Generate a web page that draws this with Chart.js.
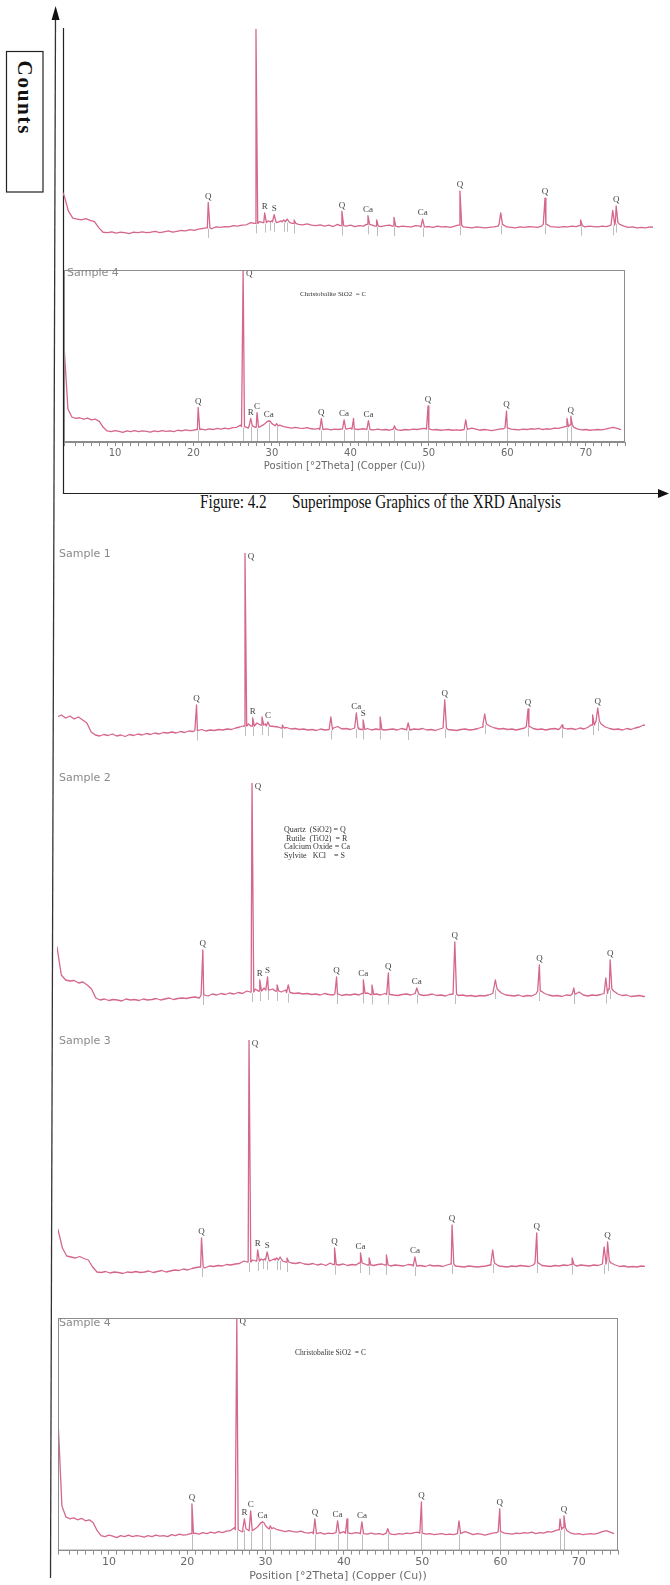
<!DOCTYPE html>
<html>
<head>
<meta charset="utf-8">
<script src="https://cdn.jsdelivr.net/npm/chart.js@4.4.0/dist/chart.umd.min.js"></script>
<style>
html,body{margin:0;padding:0;background:#fff;}
body{width:670px;height:1585px;position:relative;overflow:hidden;}
#frame{position:absolute;left:0;top:0;}
canvas{position:absolute;}
#c0{left:63px;top:29px;}
#c1{left:63px;top:270px;}
#c2{left:58px;top:553px;}
#c3{left:57px;top:783px;}
#c4{left:58px;top:1040px;}
#c5{left:57px;top:1318px;}
.name{position:absolute;font-family:"DejaVu Sans",sans-serif;font-size:11px;color:#8a8a8a;line-height:12px;}
.note{position:absolute;font-family:"Liberation Serif",serif;color:#333;white-space:pre;}
.caption{position:absolute;top:492px;font-family:"Liberation Serif",serif;font-size:19px;line-height:19px;color:#111;white-space:nowrap;transform:scaleX(0.8);transform-origin:left top;}
</style>
</head>
<body>
<svg id="frame" width="670" height="1585">
  <line x1="55.5" y1="16" x2="50.5" y2="1578" stroke="#333" stroke-width="1.3"/>
  <polygon points="55.6,6 51.6,20 59.6,20" fill="#111"/>
  <line x1="63.5" y1="28" x2="63.5" y2="494" stroke="#222" stroke-width="1.2"/>
  <line x1="63" y1="493.5" x2="660" y2="493.5" stroke="#222" stroke-width="1.2"/>
  <polygon points="669,493.5 658,489 658,498" fill="#111"/>
  <rect x="6.5" y="51.5" width="36.5" height="140.5" fill="none" stroke="#222" stroke-width="1.2"/>
  <text x="25" y="97" transform="rotate(90 25 97)" text-anchor="middle" dominant-baseline="central"
        font-family="Liberation Serif" font-size="21" font-weight="bold" fill="#111" textLength="73" lengthAdjust="spacing">Counts</text>
</svg>

<canvas id="c0" width="590" height="219"></canvas>
<canvas id="c1" width="563" height="202"></canvas>
<canvas id="c2" width="587" height="195"></canvas>
<canvas id="c3" width="588" height="232"></canvas>
<canvas id="c4" width="587" height="250"></canvas>
<canvas id="c5" width="562" height="265"></canvas>

<div class="name" style="left:67px;top:267px;">Sample 4</div>
<div class="name" style="left:59px;top:548px;">Sample 1</div>
<div class="name" style="left:59px;top:772px;">Sample 2</div>
<div class="name" style="left:59px;top:1035px;">Sample 3</div>
<div class="name" style="left:59px;top:1317px;">Sample 4</div>

<div class="note" style="left:300px;top:290px;font-size:7px;">Christobalite SiO2  = C</div>
<div class="note" style="left:295px;top:1348px;font-size:7.5px;">Christobalite SiO2  = C</div>
<div class="note" style="left:284px;top:826px;font-size:8px;line-height:8.6px;">Quartz  (SiO2) = Q
 Rutile  (TiO2)  = R
Calcium Oxide = Ca
Sylvite   KCl    = S</div>

<div class="caption" style="left:200px;">Figure: 4.2</div>
<div class="caption" style="left:292px;">Superimpose Graphics of the XRD Analysis</div>

<script>
// 2-theta grid shared by all scans
const angles = [
  3.5,4,4.5,5,5.5,6,6.5,7,7.5,8,
  8.5,9,9.5,10,10.5,11,11.5,12,12.5,13,
  13.5,14,14.5,15,15.5,16,16.5,17,17.5,18,
  18.5,19,19.5,20,20.5,21,21.5,22,22.5,23,
  23.5,24,24.5,25,25.5,26,26.5,27,27.5,28,
  28.5,29,29.5,30,30.5,31,31.5,32,32.5,33,
  33.5,34,34.5,35,35.5,36,36.5,37,37.5,38,
  38.5,39,39.5,40,40.5,41,41.5,42,42.5,43,
  43.5,44,44.5,45,45.5,46,46.5,47,47.5,48,
  48.5,49,49.5,50,50.5,51,51.5,52,52.5,53,
  53.5,54,54.5,55,55.5,56,56.5,57,57.5,58,
  58.5,59,59.5,60,60.5,61,61.5,62,62.5,63,
  63.5,64,64.5,65,65.5,66,66.5,67,67.5,68,
  68.5,69,69.5,70,70.5,71,71.5,72,72.5,73,
  73.5,74,74.5
];

// background counts on the grid above
const sample1Counts = [
  330,320,310,330,300,320,290,310,280,250,
  160,130,120,135,125,140,120,130,115,135,
  125,140,130,145,135,150,140,155,150,160,
  150,165,155,170,165,175,185,170,180,175,
  185,180,190,185,200,210,220,240,220,250,
  230,240,220,215,210,200,205,190,195,185,
  190,180,185,175,190,180,185,200,215,190,
  195,185,200,190,185,195,180,190,185,180,
  185,190,180,195,185,180,190,185,195,180,
  185,175,190,200,185,180,175,185,190,180,
  185,195,210,240,215,200,190,195,185,190,
  180,190,200,215,195,185,190,180,190,195,
  185,200,190,195,185,200,190,210,230,270,
  240,210,195,185,190,180,195,185,200,210,
  230,220,240
];
const sample2Counts = [
  750,680,400,350,340,345,320,330,300,260,
  170,150,160,145,155,150,140,160,150,155,
  145,160,150,155,165,150,160,170,155,165,
  170,165,175,180,170,200,190,210,200,215,
  205,220,210,225,215,240,230,260,240,270,
  250,260,240,230,250,225,215,220,210,215,
  205,210,200,215,205,200,210,195,205,200,
  210,200,215,220,205,210,200,215,205,200,
  195,205,210,200,215,205,195,200,210,195,
  200,190,205,210,195,200,190,195,185,195,
  190,200,215,260,220,200,195,190,200,185,
  195,190,210,240,215,200,190,195,185,200,
  195,210,230,200,190,200,195,205,215,260,
  240,210,195,200,185,190,195,185,190,180,
  190,185,195
];
const sample3Counts = [
  800,700,600,420,340,330,320,335,315,300,
  230,180,175,185,170,180,175,165,180,175,
  185,175,180,190,175,185,195,180,190,200,
  195,210,200,215,225,230,220,240,235,245,
  240,255,250,260,265,290,280,300,290,310,
  300,290,310,300,290,280,270,265,275,260,
  255,265,250,260,245,270,255,250,260,245,
  255,250,270,260,250,245,255,260,250,240,
  250,245,240,255,250,240,245,235,250,240,
  245,235,250,260,240,235,230,240,235,230,
  235,240,250,270,240,235,230,240,235,245,
  240,235,250,270,245,240,235,245,240,250,
  245,255,240,250,245,240,250,245,260,290,
  270,250,235,240,230,235,230,240,235,230,
  235,230,240
];
const sample4Counts = [
  1320,450,340,320,330,310,325,300,310,280,
  200,150,140,155,145,130,150,140,155,140,
  150,145,135,150,140,155,145,150,140,160,
  150,165,155,160,170,175,165,180,170,185,
  175,190,180,195,200,230,210,190,220,200,
  210,240,280,250,220,230,210,200,190,200,
  190,185,195,180,175,185,170,180,165,175,
  170,180,175,190,175,170,180,175,170,165,
  175,165,170,160,175,165,160,170,165,175,
  170,180,185,175,165,170,160,165,170,160,
  165,160,170,175,190,175,160,170,165,155,
  165,175,180,190,175,170,165,175,170,180,
  175,185,170,180,175,190,185,200,210,230,
  200,175,165,170,160,165,170,165,175,190,
  200,185,170
];

// peaks: [2theta, peak counts, phase]
const sample1Peaks = [
  [20.9,430,'Q'],[26.6,1950,'Q'],[27.5,300,'R'],[28.6,310,''],[29.3,260,'C'],[31.0,230,''],
  [36.7,310,''],[39.7,350,'Ca'],[40.5,280,'S'],[42.5,310,''],[45.8,250,''],[50.1,480,'Q'],
  [54.8,340,''],[59.9,390,'Q'],[63.9,230,''],[67.5,330,''],[68.1,400,'Q']
];
const sample2Peaks = [
  [20.9,650,'Q'],[26.6,2320,'Q'],[27.5,350,'R'],[28.4,380,'S'],[29.5,300,''],[30.8,300,''],
  [36.4,380,'Q'],[39.5,350,'Ca'],[40.5,300,''],[42.4,420,'Q'],[45.7,270,'Ca'],[50.1,730,'Q'],
  [54.8,350,''],[59.9,500,'Q'],[63.9,270,''],[67.6,370,''],[68.1,550,'Q']
];
const sample3Peaks = [
  [21.1,520,'Q'],[26.6,2500,'Q'],[27.6,400,'R'],[28.2,300,''],[28.7,380,'S'],[29.8,320,''],
  [30.2,330,''],[31.0,320,''],[36.5,420,'Q'],[39.5,370,'Ca'],[40.5,320,''],[42.5,350,''],
  [45.8,330,'Ca'],[50.1,650,'Q'],[54.8,400,''],[59.9,570,'Q'],[64.0,320,''],[67.7,430,''],
  [68.1,480,'Q']
];
const sample4Peaks = [
  [20.6,470,'Q'],[26.33,2340,'Q'],[27.3,320,'R'],[28.1,400,'C'],[29.6,290,'Ca'],[30.6,250,''],
  [36.3,320,'Q'],[39.2,300,'Ca'],[40.4,320,''],[42.3,290,'Ca'],[45.6,220,''],[49.9,490,'Q'],
  [54.7,300,''],[59.9,420,'Q'],[67.6,320,''],[68.1,350,'Q']
];

const traceColor = '#d5668c';

function nearestIndex(a) {
  let best = 0;
  angles.forEach((v, i) => {
    if (Math.abs(v - a) < Math.abs(angles[best] - a)) best = i;
  });
  return best;
}

function tracePoints(counts, peaks) {
  const pts = angles.map((a, i) => ({x: a, y: counts[i]}));
  peaks.forEach(([a, h]) => {
    const foot = counts[nearestIndex(a)];
    pts.push({x: a - 0.2, y: foot}, {x: a, y: h}, {x: a + 0.2, y: foot});
  });
  return pts.sort((p, q) => p.x - q.x);
}

// reference sticks, phase letters and the frame round the plot
function decor(counts, peaks, boxed, topLabel) {
  return {
    id: 'decor',
    beforeDatasetsDraw(chart) {
      const {ctx, chartArea: a, scales: {x, y}} = chart;
      ctx.save();
      ctx.strokeStyle = '#bdbdbd';
      ctx.lineWidth = 1;
      peaks.forEach(p => {
        if (p[0] < x.min || p[0] > x.max) return;
        const px = Math.round(x.getPixelForValue(p[0])) + 0.5;
        const foot = y.getPixelForValue(counts[nearestIndex(p[0])]);
        const end = boxed ? a.bottom : Math.min(a.bottom, foot + 10);
        ctx.beginPath();
        ctx.moveTo(px, foot + 1);
        ctx.lineTo(px, end);
        ctx.stroke();
      });
      ctx.restore();
    },
    afterDatasetsDraw(chart) {
      const {ctx, chartArea: a, scales: {x, y}} = chart;
      ctx.save();
      ctx.fillStyle = '#444';
      ctx.font = '9px "Liberation Serif"';
      ctx.textAlign = 'center';
      ctx.textBaseline = 'middle';
      peaks.forEach(p => {
        if (!p[2]) return;
        let px = x.getPixelForValue(p[0]);
        let py = y.getPixelForValue(p[1]) - 6;
        if (py < a.top + 4) {
          if (!topLabel) return;
          py = a.top + 4;
          px += 6;
        }
        ctx.fillText(p[2], px, py);
      });
      if (boxed) {
        ctx.strokeStyle = '#8c8c8c';
        ctx.lineWidth = 1;
        ctx.strokeRect(a.left + 0.5, a.top + 0.5, a.right - a.left - 1, a.bottom - a.top - 1);
      }
      ctx.restore();
    }
  };
}

function drawPattern(id, counts, peaks, xMin, xMax, yMax, boxed, topLabel, axisFont) {
  const xScale = {
    type: 'linear', min: xMin, max: xMax, display: boxed,
    grid: {drawOnChartArea: false, tickLength: 4, color: '#8c8c8c'},
    border: {display: true, color: '#8c8c8c'},
    ticks: {
      stepSize: 1, autoSkip: false, maxRotation: 0, padding: 1, color: '#6a6a6a',
      font: {family: 'DejaVu Sans', size: axisFont},
      callback: v => (v % 10 === 0 ? String(v) : '')
    },
    title: {
      display: true, text: 'Position [°2Theta] (Copper (Cu))', color: '#6a6a6a',
      font: {family: 'DejaVu Sans', size: axisFont}, padding: 0
    }
  };
  new Chart(document.getElementById(id), {
    type: 'line',
    data: {
      datasets: [{
        data: tracePoints(counts, peaks),
        borderColor: traceColor,
        borderWidth: 1.3,
        borderJoinStyle: 'round',
        pointRadius: 0,
        tension: 0,
        fill: false
      }]
    },
    options: {
      responsive: false,
      animation: false,
      events: [],
      layout: {padding: 0},
      plugins: {legend: {display: false}, tooltip: {enabled: false}},
      scales: {
        x: xScale,
        y: {type: 'linear', display: false, min: 0, max: yMax}
      }
    },
    plugins: [decor(counts, peaks, boxed, topLabel)]
  });
}

drawPattern('c0', sample3Counts, sample3Peaks, 4.37, 72.34, 2500, false, false, 10);
drawPattern('c1', sample4Counts, sample4Peaks, 3.5, 75, 2340, true, true, 10);
drawPattern('c2', sample1Counts, sample1Peaks, 4.6, 73.66, 1950, false, true, 10);
drawPattern('c3', sample2Counts, sample2Peaks, 4.0, 72.14, 2320, false, true, 10);
drawPattern('c4', sample3Counts, sample3Peaks, 4.49, 72.43, 2500, false, true, 10);
drawPattern('c5', sample4Counts, sample4Peaks, 3.5, 75, 2340, true, true, 11);
</script>
</body>
</html>
